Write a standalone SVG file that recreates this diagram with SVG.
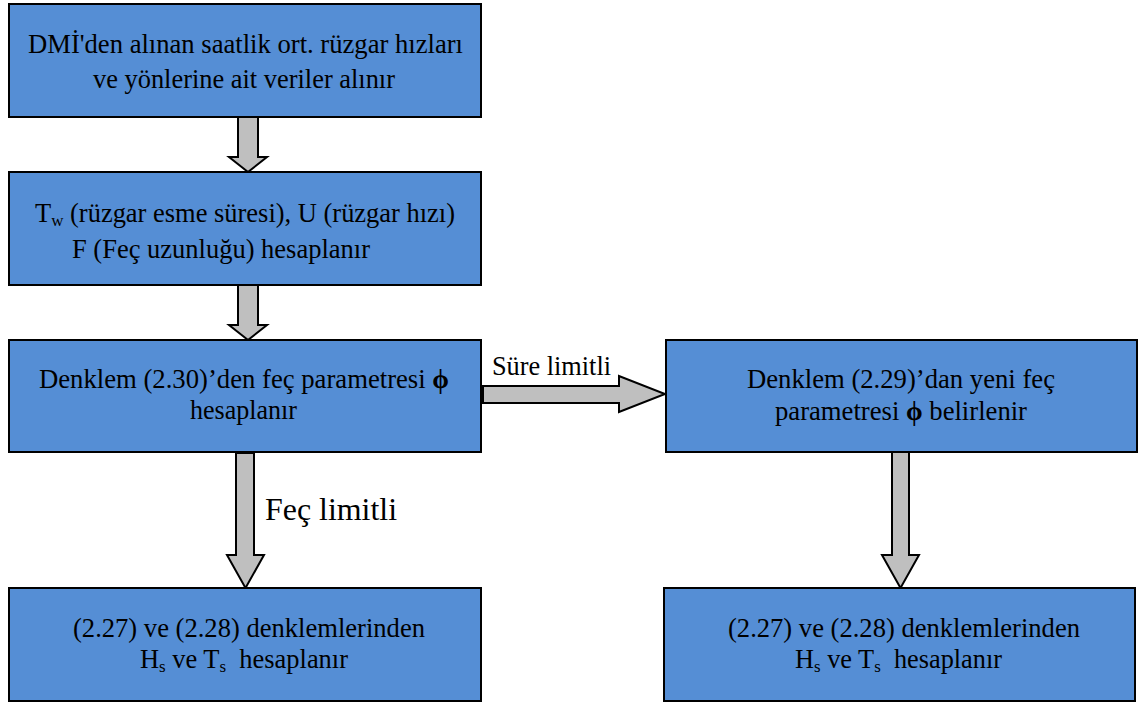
<svg xmlns="http://www.w3.org/2000/svg" width="1138" height="704" viewBox="0 0 1138 704">
<style>
.box{fill:#558ED5;stroke:#000;stroke-width:2}
.arr{fill:#BFBFBF;stroke:#000;stroke-width:2;stroke-linejoin:miter}
.t{font-family:'Liberation Serif',serif;font-size:26.5px;fill:#000}
.sub{font-size:17px}
.b{font-weight:bold}
</style>
<rect width="1138" height="704" fill="#fff"/>
<g id="connectors">
<polygon class="arr" points="238,117 258,117 258,157 267,157 248,172 229,157 238,157"/>
<polygon class="arr" points="238,285 258,285 258,325 267,325 248,340 229,325 238,325"/>
<polygon class="arr" points="483,386 619,386 619,376 665,394 619,412 619,403 483,403"/>
<polygon class="arr" points="236,453 254,453 254,555 264,555 245.5,588 227,555 236,555"/>
<polygon class="arr" points="892,452 909,452 909,555 919,555 900.5,588 882,555 892,555"/>
<text class="t" x="492" y="375" style="font-size:27px" textLength="119" lengthAdjust="spacingAndGlyphs">Süre limitli</text>
<text class="t" x="265" y="520" style="font-size:32px" textLength="132" lengthAdjust="spacingAndGlyphs">Feç limitli</text>
</g>
<g id="n1">
<rect class="box" x="9" y="4" width="472" height="113"/>
<text class="t" x="28" y="53" textLength="435" lengthAdjust="spacingAndGlyphs">DMİ'den alınan saatlik ort. rüzgar hızları</text>
<text class="t" x="93" y="88" textLength="302" lengthAdjust="spacingAndGlyphs">ve yönlerine ait veriler alınır</text>
</g>
<g id="n2">
<rect class="box" x="9" y="172" width="472" height="113"/>
<text class="t" x="35" y="222" textLength="420" lengthAdjust="spacingAndGlyphs">T<tspan class="sub" dy="4">w</tspan><tspan dy="-4"> (rüzgar esme süresi), U (rüzgar hızı)</tspan></text>
<text class="t" x="72" y="258" textLength="298" lengthAdjust="spacingAndGlyphs">F (Feç uzunluğu) hesaplanır</text>
</g>
<g id="n3">
<rect class="box" x="9" y="340" width="472" height="112"/>
<text class="t" x="39" y="388" textLength="410" lengthAdjust="spacingAndGlyphs">Denklem (2.30)’den feç parametresi <tspan class="b">ϕ</tspan></text>
<text class="t" x="190" y="419" textLength="107" lengthAdjust="spacingAndGlyphs">hesaplanır</text>
</g>
<g id="n4">
<rect class="box" x="666" y="340" width="471" height="112"/>
<text class="t" x="747" y="388" textLength="308" lengthAdjust="spacingAndGlyphs">Denklem (2.29)’dan yeni feç</text>
<text class="t" x="775" y="420" textLength="252" lengthAdjust="spacingAndGlyphs">parametresi <tspan class="b">ϕ</tspan> belirlenir</text>
</g>
<g id="n5">
<rect class="box" x="9" y="588" width="472" height="113"/>
<text class="t" x="73" y="637" textLength="352" lengthAdjust="spacingAndGlyphs">(2.27) ve (2.28) denklemlerinden</text>
<text class="t" x="140" y="668" textLength="208" lengthAdjust="spacingAndGlyphs">H<tspan class="sub" dy="4">s</tspan><tspan dy="-4"> ve T</tspan><tspan class="sub" dy="4">s</tspan><tspan dy="-4" xml:space="preserve">  hesaplanır</tspan></text>
</g>
<g id="n6">
<rect class="box" x="664" y="588" width="471" height="113"/>
<text class="t" x="728" y="637" textLength="352" lengthAdjust="spacingAndGlyphs">(2.27) ve (2.28) denklemlerinden</text>
<text class="t" x="795" y="668" textLength="207" lengthAdjust="spacingAndGlyphs">H<tspan class="sub" dy="4">s</tspan><tspan dy="-4"> ve T</tspan><tspan class="sub" dy="4">s</tspan><tspan dy="-4" xml:space="preserve">  hesaplanır</tspan></text>
</g>
</svg>
